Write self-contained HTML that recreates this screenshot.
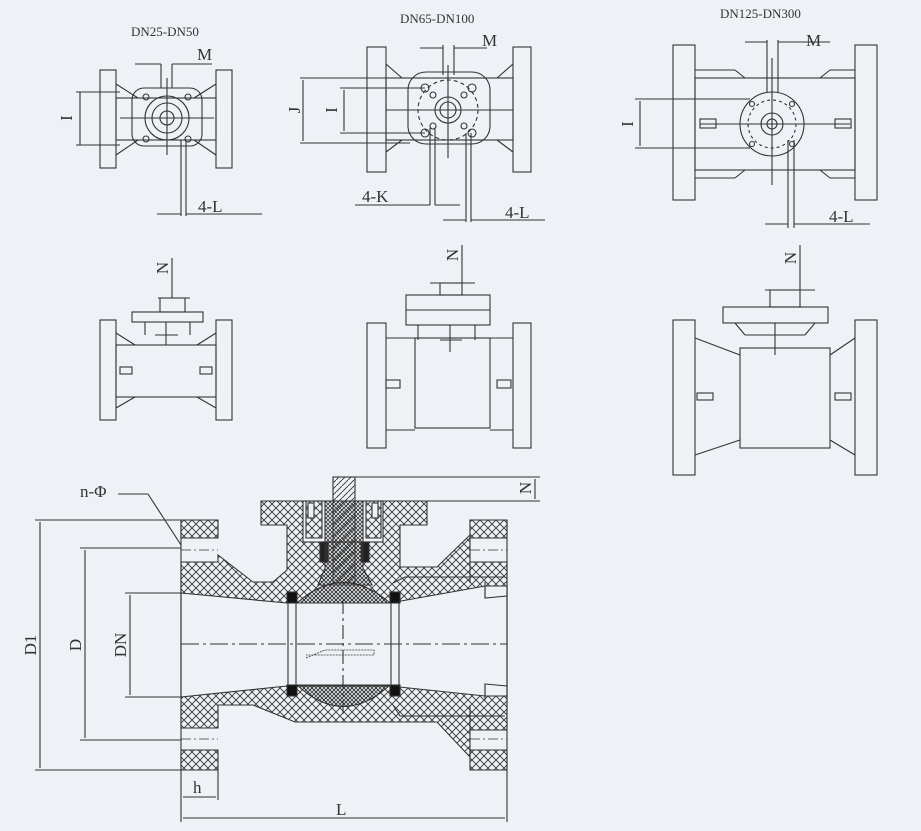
<!DOCTYPE html>
<html><head><meta charset="utf-8"><style>
html,body{margin:0;padding:0;background:#eef2f6;}
svg{display:block}
text{font-family:"Liberation Serif",serif;fill:#333}
</style></head><body>
<svg width="921" height="831" viewBox="0 0 921 831" xmlns="http://www.w3.org/2000/svg">
<defs>
<pattern id="h" width="8" height="8" patternUnits="userSpaceOnUse">
<path d="M0,0 L8,8 M8,0 L0,8" stroke="#333" stroke-width="0.9"/>
</pattern>
<pattern id="hf" width="4" height="4" patternUnits="userSpaceOnUse">
<path d="M0,0 L4,4 M4,0 L0,4" stroke="#333" stroke-width="0.8"/>
</pattern>
<pattern id="hs" width="6" height="6" patternUnits="userSpaceOnUse">
<path d="M0,6 L6,0" stroke="#333" stroke-width="0.9"/>
</pattern>
</defs>
<rect width="921" height="831" fill="#eef2f6"/>
<g stroke="#333" stroke-width="1.1" fill="none">
<!-- ===== View 1 top ===== -->
<rect x="100" y="70" width="16" height="98"/><rect x="216" y="70" width="16" height="98"/>
<path d="M116,84 L138,98 M116,155 L138,140 M216,84 L194,98 M216,155 L194,140"/>
<rect x="116" y="98" width="100" height="42"/>
<rect x="132" y="88" width="70" height="58" rx="12"/>
<circle cx="167" cy="118" r="22"/><circle cx="167" cy="118" r="15"/><circle cx="167" cy="118" r="7"/>
<path d="M167,78 V155 M120,118 H214"/>
<circle cx="146" cy="97" r="3"/><circle cx="188" cy="97" r="3"/><circle cx="146" cy="139" r="3"/><circle cx="188" cy="139" r="3"/>
<path d="M76,92 H120 M76,145 H120 M80,92 V145"/>
<path d="M161,64 V88 M172,64 V88 M135,64 H161 M172,64 H212"/>
<path d="M181,140 V216 M186,140 V216 M157,214 H181 M186,214 H262"/>
<!-- ===== View 2 top ===== -->
<rect x="367" y="47" width="19" height="125"/><rect x="513" y="47" width="18" height="125"/>
<path d="M386,64 L402,78 M386,152 L402,140 M513,64 L497,78 M513,152 L497,140"/>
<rect x="386" y="78" width="127" height="62"/>
<rect x="408" y="72" width="82" height="72" rx="18"/>
<circle cx="448" cy="110" r="30" stroke-dasharray="4,3"/>
<circle cx="448" cy="110" r="13"/><circle cx="448" cy="110" r="8"/>
<circle cx="425" cy="88" r="4"/><circle cx="472" cy="88" r="4"/><circle cx="425" cy="133" r="4"/><circle cx="472" cy="133" r="4"/>
<circle cx="433" cy="95" r="3"/><circle cx="464" cy="95" r="3"/><circle cx="433" cy="126" r="3"/><circle cx="464" cy="126" r="3"/>
<path d="M448,65 V158 M386,110 H513"/>
<path d="M300,78 H410 M300,143 H410 M303,80 V141"/>
<path d="M340,88 H425 M340,133 H425 M344,90 V131"/>
<path d="M443,45 V75 M454,45 V75 M420,48 H443 M454,48 H487"/>
<path d="M430,128 V205 M435,128 V205 M355,205 H430 M435,205 H460"/>
<path d="M466,133 V222 M471,133 V222 M443,220 H466 M471,220 H545"/>
<!-- ===== View 3 top ===== -->
<rect x="673" y="45" width="22" height="155"/><rect x="855" y="45" width="22" height="155"/>
<path d="M695,70 L735,70 M695,178 L735,178 M855,70 L830,70 M855,178 L830,178 M735,70 L745,78 M735,178 L745,170 M830,70 L820,78 M830,178 L820,170"/>
<rect x="695" y="78" width="160" height="92"/>
<circle cx="772" cy="124" r="32"/><circle cx="772" cy="124" r="11"/><circle cx="772" cy="124" r="5"/>
<circle cx="772" cy="124" r="24" stroke-dasharray="3,3"/>
<circle cx="752" cy="104" r="2.5"/><circle cx="792" cy="104" r="2.5"/><circle cx="752" cy="144" r="2.5"/><circle cx="792" cy="144" r="2.5"/>
<path d="M772,58 V185 M700,124 H850"/>
<rect x="700" y="119" width="16" height="9"/><rect x="835" y="119" width="16" height="9"/>
<path d="M635,99 H750 M635,148 H750 M640,101 V146"/>
<path d="M767,40 V92 M778,40 V92 M745,42 H767 M778,42 H830"/>
<path d="M788,140 V228 M794,140 V228 M765,224 H788 M794,224 H870"/>
<!-- ===== Middle row ===== -->
<rect x="100" y="320" width="16" height="100"/><rect x="216" y="320" width="16" height="100"/>
<path d="M116,333 L135,345 M116,408 L135,397 M216,333 L197,345 M216,408 L197,397"/>
<rect x="116" y="345" width="100" height="52"/>
<rect x="132" y="312" width="71" height="10"/><rect x="160" y="298" width="25" height="14"/>
<path d="M145,322 V335 M190,322 V335 M155,335 H178 M166,322 V345"/>
<rect x="120" y="367" width="12" height="7"/><rect x="200" y="367" width="12" height="7"/>
<path d="M172,258 V298 M158,298 H190"/>
<rect x="367" y="323" width="19" height="125"/><rect x="513" y="323" width="18" height="125"/>
<path d="M386,338 L415,338 M386,430 L415,430 M513,338 L490,338 M513,430 L490,430"/>
<rect x="415" y="338" width="75" height="90"/>
<rect x="406" y="295" width="84" height="30"/><rect x="440" y="283" width="22" height="12"/>
<path d="M406,310 H490 M418,325 V340 M475,325 V340 M440,340 H462 M450,325 V352"/>
<rect x="386" y="380" width="14" height="8"/><rect x="497" y="380" width="14" height="8"/>
<path d="M462,245 V283 M430,283 H475"/>
<rect x="673" y="320" width="22" height="155"/><rect x="855" y="320" width="22" height="155"/>
<path d="M695,338 L740,355 M695,455 L740,440 M855,338 L830,355 M855,455 L830,440"/>
<rect x="740" y="348" width="90" height="100"/>
<rect x="723" y="307" width="105" height="16"/><rect x="770" y="290" width="30" height="17"/>
<path d="M735,323 L745,335 M815,323 L805,335 M745,335 H805 M775,323 V355"/>
<rect x="697" y="393" width="16" height="7"/><rect x="835" y="393" width="16" height="7"/>
<path d="M800,245 V290 M765,290 H815"/>

<!-- ===== Section view ===== -->
<path fill="url(#h)" d="M181,520 H218 V538 H181 Z M470,520 H507 V538 H470 Z M181,750 H218 V770 H181 Z M470,750 H507 V770 H470 Z"/>
<path fill="url(#h)" d="M181,562 H218 V555 L253,582 H273 L287,570 V525 H261 V501 H427 V525 H400 V567 H437 L470,535 V562 H507 V730 H470 V757 L437,722 H295 L253,705 H218 V728 H181 Z"/>
<!-- bore -->
<path fill="#eef2f6" d="M181,593 L287,603 H390 L485,586 H507 V696 H485 L390,686 H287 L181,697 Z"/>
<!-- right insert detail -->
<path fill="#eef2f6" d="M485,586 H507 V596 L485,598 Z M485,684 L507,686 V696 H485 Z"/>
<path d="M393,583 L405,577 H505 M393,705 L400,716 H505 M470,562 V583 M470,705 V730 M485,582 V598 M485,684 V700"/>
<!-- bonnet cavity -->
<rect x="303" y="501" width="80" height="41" fill="#eef2f6"/>
<path fill="url(#h)" d="M306,501 H322 V538 H306 Z M366,501 H381 V538 H366 Z"/>
<rect x="308" y="503" width="6" height="15" fill="#eef2f6"/><rect x="372" y="503" width="6" height="15" fill="#eef2f6"/>
<rect x="320" y="542" width="8" height="20" fill="#222"/><rect x="361" y="542" width="8" height="20" fill="#222"/>
<path fill="url(#hf)" d="M325,501 H363 V568 L372,585 H318 L325,568 Z"/>
<rect x="333" y="477" width="22" height="106" fill="url(#hs)"/>
<!-- ball -->
<path fill="url(#hf)" d="M297,603 Q343,562 390,603 Z M297,685 Q343,728 390,685 Z"/>
<rect x="287" y="592" width="10" height="11" fill="#111"/><rect x="287" y="685" width="10" height="11" fill="#111"/>
<rect x="390" y="592" width="10" height="11" fill="#111"/><rect x="390" y="685" width="10" height="11" fill="#111"/>
<path d="M288,603 V685 M296,603 V685 M391,603 V685 M399,603 V685"/>
<path d="M181,520 V770 M507,520 V770"/>
<path d="M181,550 H218 M470,550 H507 M181,739 H218 M470,739 H507" stroke-dasharray="10,3,2,3" stroke-width="0.8"/>
<path d="M181,644 H507" stroke-dasharray="18,4,3,4"/>
<path d="M343,600 V720" stroke-dasharray="14,4,3,4"/>
<path d="M306,658 L325,650 H374 V655 H306" stroke-dasharray="2,1" stroke-width="0.8"/>
<!-- dimensions -->
<path d="M355,477 H540 M355,501 H540 M535,479 V499"/>
<path d="M35,520 H181 M35,770 H181 M40,522 V768"/>
<path d="M80,548 H181 M80,740 H181 M85,550 V738"/>
<path d="M125,593 H181 M125,697 H181 M130,595 V695"/>
<path d="M181,770 V822 M218,770 V800 M507,770 V822 M183,797 H216 M183,818 H505"/>
<path d="M118,494 H148 L181,545"/>
</g>
<g font-size="13">
<text x="131" y="36">DN25-DN50</text>
<text x="400" y="23">DN65-DN100</text>
<text x="720" y="18">DN125-DN300</text>
</g>
<g font-size="17">
<text x="197" y="60">M</text><text x="482" y="46">M</text><text x="806" y="46">M</text>
<text x="198" y="212">4-L</text><text x="505" y="218">4-L</text><text x="829" y="222">4-L</text>
<text x="362" y="202">4-K</text>
<text x="80" y="497">n-Φ</text>
<text x="336" y="815">L</text>
<text x="193" y="793">h</text>
<text transform="translate(72,118) rotate(-90)" text-anchor="middle">I</text>
<text transform="translate(300,110) rotate(-90)" text-anchor="middle">J</text>
<text transform="translate(337,110) rotate(-90)" text-anchor="middle">I</text>
<text transform="translate(633,124) rotate(-90)" text-anchor="middle">I</text>
<text transform="translate(168,268) rotate(-90)" text-anchor="middle">N</text>
<text transform="translate(458,255) rotate(-90)" text-anchor="middle">N</text>
<text transform="translate(796,258) rotate(-90)" text-anchor="middle">N</text>
<text transform="translate(531,488) rotate(-90)" text-anchor="middle">N</text>
<text transform="translate(36,645) rotate(-90)" text-anchor="middle">D1</text>
<text transform="translate(81,645) rotate(-90)" text-anchor="middle">D</text>
<text transform="translate(126,645) rotate(-90)" text-anchor="middle">DN</text>
</g>
</svg>
</body></html>
